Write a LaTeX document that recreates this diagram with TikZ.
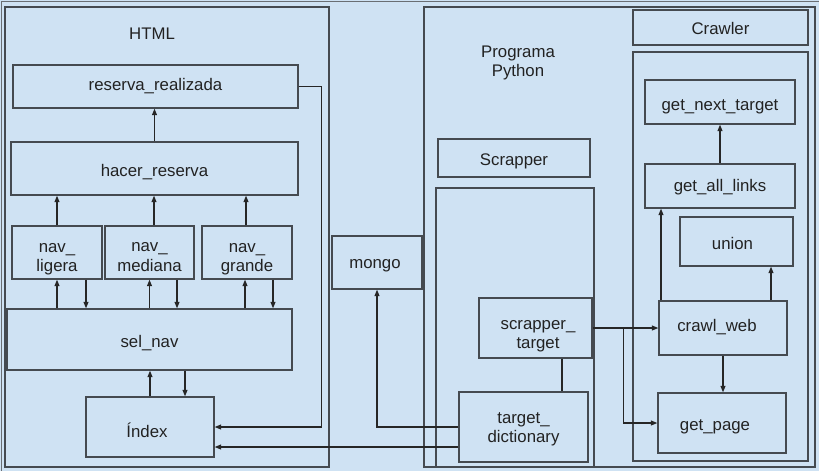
\documentclass[tikz,border=0pt]{standalone}
\usepackage{fontspec}
\setmainfont{Liberation Sans}
\usetikzlibrary{arrows.meta,calc}
\definecolor{bg}{HTML}{CFE2F3}
\definecolor{ln}{HTML}{454A50}
\definecolor{tx}{HTML}{222222}
\tikzset{
  box/.style={draw=ln, line width=1.4pt, rectangle, inner sep=0pt},
  lbl/.style={inner sep=0pt, align=center, text=tx, font=\fontsize{16.8}{19.5}\selectfont},
  conn/.style={draw=black!85, line width=1.1pt},
  arr/.style={conn, -{Triangle[length=6.5pt,width=5pt]}},
}
\begin{document}
\begin{tikzpicture}[x=1pt,y=-1pt]
\useasboundingbox (0,0) rectangle (819,471);
\clip (0,0) rectangle (819,471);
\fill[bg] (0,0) rectangle (819,471);
\draw[draw=ln!80, line width=1.2pt] (1.5,1.5) rectangle (840,490);
% containers
\node[box, minimum width=324pt, minimum height=460pt] (html) at (167,237) {};
\node[box, minimum width=391pt, minimum height=460pt] (prog) at (619.5,237) {};
\node[lbl] (htmllbl) at (152,34) {HTML};
\node[lbl] (proglbl) at (518,63) {Programa\\Python};
% HTML side
\node[box, minimum width=285pt, minimum height=43pt] (reserva) at (155.5,86.5) {};
\node[lbl] (reserva-t) at ($(reserva)+(0,0)$) {reserva\_realizada};
\node[box, minimum width=287pt, minimum height=53pt] (hacer) at (154.5,168.5) {};
\node[lbl] (hacer-t) at ($(hacer)+(0,3.5)$) {hacer\_reserva};
\node[box, minimum width=90pt, minimum height=53pt] (navl) at (57,252.5) {};
\node[lbl] (navl-t) at ($(navl)+(0,6.5)$) {nav\_\\ligera};
\node[box, minimum width=89pt, minimum height=53pt] (navm) at (149.5,252.5) {};
\node[lbl] (navm-t) at ($(navm)+(0,4.5)$) {nav\_\\mediana};
\node[box, minimum width=90pt, minimum height=53pt] (navg) at (247,252.5) {};
\node[lbl] (navg-t) at ($(navg)+(0,6.5)$) {nav\_\\grande};
\node[box, minimum width=285pt, minimum height=61pt] (selnav) at (149.5,339.5) {};
\node[lbl] (selnav-t) at ($(selnav)+(0,4)$) {sel\_nav};
\node[box, minimum width=128pt, minimum height=60pt] (index) at (150,427) {};
\node[lbl] (index-t) at ($(index)+(-3,3)$) {Índex};
% middle
\node[box, minimum width=90pt, minimum height=53pt] (mongo) at (377,262.5) {};
\node[lbl] (mongo-t) at ($(mongo)+(-2,3)$) {mongo};
% scrapper
\node[box, minimum width=152pt, minimum height=38pt] (scrlbl) at (514,158) {};
\node[lbl] (scrlbl-t) at ($(scrlbl)+(0,3)$) {Scrapper};
\node[box, minimum width=158pt, minimum height=279pt] (scrc) at (515,327.5) {};
\node[box, minimum width=113pt, minimum height=60pt] (strg) at (535.5,328) {};
\node[lbl] (strg-t) at ($(strg)+(2.5,8)$) {scrapper\_\\target};
\node[box, minimum width=129pt, minimum height=70pt] (tdict) at (523.5,427) {};
\node[lbl] (tdict-t) at ($(tdict)+(0,2.5)$) {target\_\\dictionary};
% crawler
\node[box, minimum width=175pt, minimum height=35pt] (crlbl) at (720.5,27.5) {};
\node[lbl] (crlbl-t) at ($(crlbl)+(0,1)$) {Crawler};
\node[box, minimum width=175pt, minimum height=409pt] (crc) at (720.5,256.5) {};
\node[box, minimum width=150pt, minimum height=44pt] (gnt) at (720,102) {};
\node[lbl] (gnt-t) at ($(gnt)+(0,5)$) {get\_next\_target};
\node[box, minimum width=150pt, minimum height=44pt] (gal) at (720,186) {};
\node[lbl] (gal-t) at ($(gal)+(0,1.5)$) {get\_all\_links};
\node[box, minimum width=113pt, minimum height=49pt] (union) at (736.5,241.5) {};
\node[lbl] (union-t) at ($(union)+(-4,1.5)$) {union};
\node[box, minimum width=128pt, minimum height=54pt] (crawl) at (723,328) {};
\node[lbl] (crawl-t) at ($(crawl)+(-6,-1)$) {crawl\_web};
\node[box, minimum width=128pt, minimum height=60pt] (getpage) at (722,423) {};
\node[lbl] (getpage-t) at ($(getpage)+(-7,4)$) {get\_page};
% connectors HTML
\draw[arr] (hacer.north) -- (hacer.north |- reserva.south);
\draw[arr] (navl.north) -- (navl.north |- hacer.south);
\draw[arr] ([xshift=4.5pt]navm.north) -- ([xshift=4.5pt]navm.north |- hacer.south);
\draw[arr] ([xshift=-1pt]navg.north) -- ([xshift=-1pt]navg.north |- hacer.south);
\draw[arr] (navl.south |- selnav.north) -- (navl.south);
\draw[arr] ([xshift=29pt]navl.south) -- ([xshift=29pt]navl.south |- selnav.north);
\draw[arr] (navm.south |- selnav.north) -- (navm.south);
\draw[arr] ([xshift=27.5pt]navm.south) -- ([xshift=27.5pt]navm.south |- selnav.north);
\draw[arr] ([xshift=-2pt]navg.south |- selnav.north) -- ([xshift=-2pt]navg.south);
\draw[arr] ([xshift=26pt]navg.south) -- ([xshift=26pt]navg.south |- selnav.north);
\draw[arr] (index.north) -- (index.north |- selnav.south);
\draw[arr] ([xshift=35pt]index.north |- selnav.south) -- ([xshift=35pt]index.north);
\draw[arr] (reserva.east) -- ++(23,0) |- (index.east);
\draw[arr] ([yshift=-20pt]tdict.west) -- ([yshift=-20pt]tdict.west -| index.east);
\draw[arr] (tdict.west) -| (mongo.south);
% scrapper / crawler
\draw[conn] ([xshift=26.5pt]strg.south) -- ([xshift=26.5pt]strg.south |- tdict.north);
\coordinate (br) at ($(strg.east)!0.47!(crawl.west)$);
\draw[arr] (strg.east) -- (crawl.west);
\draw[arr] (br) |- (getpage.west);
\draw[arr] ([xshift=48pt]crawl.north) -- ([xshift=48pt]crawl.north |- union.south);
\draw[arr] ([xshift=-62pt]crawl.north) -- ([xshift=-62pt]crawl.north |- gal.south);
\draw[arr] (gal.north) -- (gnt.south);
\draw[arr] (crawl.south) -- (crawl.south |- getpage.north);
\end{tikzpicture}
\end{document}
